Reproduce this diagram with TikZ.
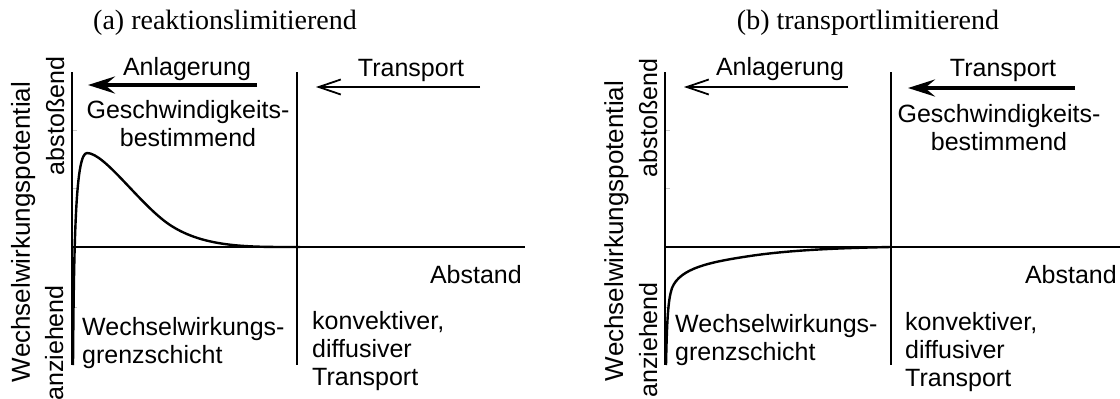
\documentclass[tikz,border=0pt]{standalone}
\usepackage{fontspec}
\setmainfont{Liberation Serif}
\setsansfont{Liberation Sans}
\usetikzlibrary{arrows.meta}

\begin{document}
\begin{tikzpicture}[x=1pt,y=-1pt,
  lbl/.style={font=\sffamily\fontsize{25}{28}\selectfont, inner sep=0pt},
  biglbl/.style={font=\sffamily\fontsize{26}{29}\selectfont, inner sep=0pt},
  ttl/.style={font=\rmfamily\fontsize{28}{32}\selectfont, inner sep=0pt},
  axisline/.style={line width=2.5pt},
  divline/.style={line width=1.2pt},
  curveline/.style={line width=2.4pt, line join=round},
  tickline/.style={line width=0.8pt, gray!45},
  thickarrow/.style={line width=4pt, -{Stealth[length=27pt,width=17pt,inset=10pt]}},
  thinarrow/.style={line width=1.8pt, -{Straight Barb[length=22pt,width=15pt]}}]
\useasboundingbox (0,0) rectangle (1120,399);

% ---------------- (a) reaction-limited ----------------
\node[ttl, anchor=base] (ta) at (225,29) {(a) reaktionslimitierend};

\coordinate (ayT) at (72,72);
\coordinate (ayB) at (72,365);
\coordinate (axL) at (72,247);
\coordinate (axR) at (525,247);
\coordinate (adT) at (297,72);
\coordinate (adB) at (297,365);
\draw[axisline] (ayT) -- (ayB);
\draw[axisline] (axL) -- (axR);
\draw[divline] (adT) -- (adB);
\foreach \ty in {130,188,307}
  \draw[tickline] (73,\ty) -- (77,\ty);

% potential curve with repulsive barrier
\coordinate (ac0) at (73,365);
\coordinate (ac1) at (87,153);
\coordinate (ac2) at (170,225);
\coordinate (ac3) at (300,247);
\draw[curveline] (ac0) .. controls (74,230) and (76,153) .. (ac1)
  .. controls (105,153) and (140,205) .. (ac2)
  .. controls (205,248) and (250,247) .. (ac3);

% arrows
\coordinate (aAs) at (257,85);
\coordinate (aAe) at (88,85);
\draw[thickarrow] (aAs) -- (aAe);
\coordinate (aTs) at (480,87);
\coordinate (aTe) at (316,87);
\draw[thinarrow] (aTs) -- (aTe);

\node[lbl, anchor=base] (aAnl) at (187,75) {Anlagerung};
\node[lbl, anchor=base] (aTra) at (411,76) {Transport};
\node[lbl, anchor=north, align=center] (aGes) at (188,100)
  {Geschwindigkeits-\\bestimmend};
\node[lbl, anchor=base east] (aAbs) at (522,283) {Abstand};
\node[lbl, anchor=north west, align=left] (aKon) at (312,311)
  {konvektiver,\\diffusiver\\Transport};
\node[lbl, anchor=north west, align=left] (aWgr) at (82,317)
  {Wechselwirkungs-\\grenzschicht};
\node[biglbl, anchor=base, rotate=90] (aPot) at (30,232) {Wechselwirkungspotential};
\node[lbl, anchor=base, rotate=90] (aAbg) at (64,116) {abstoßend};
\node[lbl, anchor=base, rotate=90] (aAnz) at (63,343) {anziehend};

% ---------------- (b) transport-limited ----------------
\node[ttl, anchor=base] (tb) at (868,29) {(b) transportlimitierend};

\coordinate (byT) at (665,72);
\coordinate (byB) at (665,365);
\coordinate (bxL) at (665,247);
\coordinate (bxR) at (1120,247);
\coordinate (bdT) at (891,72);
\coordinate (bdB) at (891,365);
\draw[axisline] (byT) -- (byB);
\draw[axisline] (bxL) -- (bxR);
\draw[divline] (bdT) -- (bdB);
\foreach \ty in {130,188,307}
  \draw[tickline] (666,\ty) -- (670,\ty);

% purely attractive potential curve
\coordinate (bc0) at (666,365);
\coordinate (bc1) at (672,288);
\coordinate (bc2) at (750,256);
\coordinate (bc3) at (891,247);
\draw[curveline] (bc0) .. controls (667,320) and (668,300) .. (bc1)
  .. controls (680,268) and (710,262) .. (bc2)
  .. controls (790,250) and (840,248) .. (bc3);

% arrows
\coordinate (bAs) at (848,87);
\coordinate (bAe) at (684,87);
\draw[thinarrow] (bAs) -- (bAe);
\coordinate (bTs) at (1075,88);
\coordinate (bTe) at (908,88);
\draw[thickarrow] (bTs) -- (bTe);

\node[lbl, anchor=base] (bAnl) at (780,75) {Anlagerung};
\node[lbl, anchor=base] (bTra) at (1003,76) {Transport};
\node[lbl, anchor=north, align=center] (bGes) at (999,104)
  {Geschwindigkeits-\\bestimmend};
\node[lbl, anchor=base east] (bAbs) at (1117,283) {Abstand};
\node[lbl, anchor=north west, align=left] (bKon) at (905,312)
  {konvektiver,\\diffusiver\\Transport};
\node[lbl, anchor=north west, align=left] (bWgr) at (675,314)
  {Wechselwirkungs-\\grenzschicht};
\node[biglbl, anchor=base, rotate=90] (bPot) at (623,231) {Wechselwirkungspotential};
\node[lbl, anchor=base, rotate=90] (bAbg) at (657,118) {abstoßend};
\node[lbl, anchor=base, rotate=90] (bAnz) at (657,340) {anziehend};
\end{tikzpicture}
\end{document}
